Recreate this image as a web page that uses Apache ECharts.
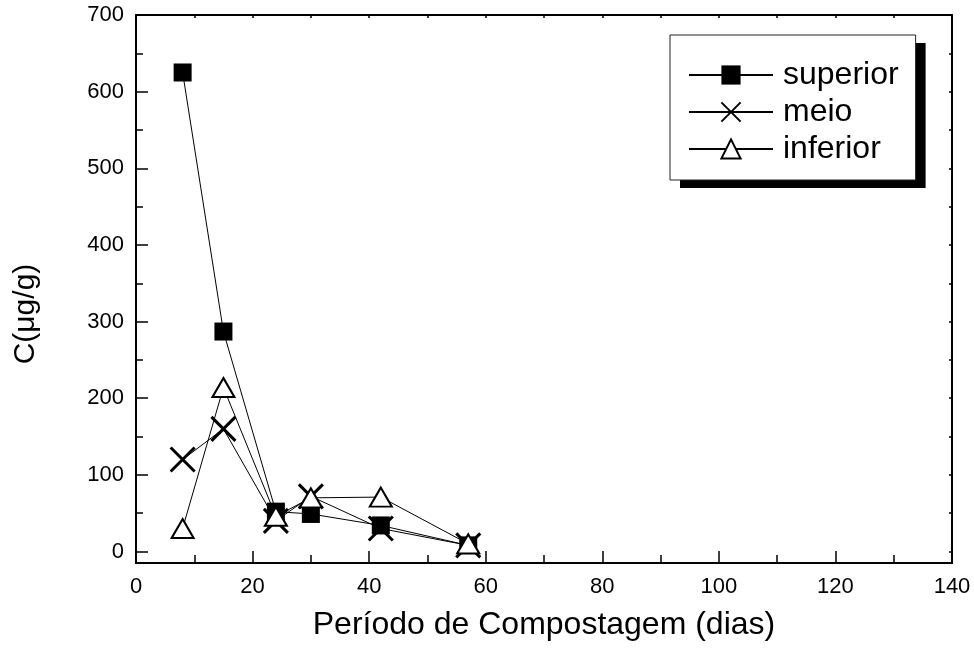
<!DOCTYPE html>
<html>
<head>
<meta charset="utf-8">
<script src="https://cdn.jsdelivr.net/npm/echarts@6/dist/echarts.min.js"></script>
<style>
html,body{margin:0;padding:0;background:#fff;}
#c{width:974px;height:648px;}
</style>
</head>
<body>
<div id="c"></div>
<script>
const days = [8, 15, 24, 30, 42, 57];
const superior = [625, 287, 52, 49, 34, 8];
const meio = [120, 160, 40, 72, 30, 8];
const inferior = [30, 214, 46, 70, 71, 10];
const seriesNames = ['superior', 'meio', 'inferior'];
const yMajor = [0, 100, 200, 300, 400, 500, 600, 700];
const yMinor = [50, 150, 250, 350, 450, 550, 650];
const yAll = [0, 50, 100, 150, 200, 250, 300, 350, 400, 450, 500, 550, 600, 650, 700];

const FONT = "'Liberation Sans', Arial, sans-serif";
const pairs = v => days.map((d, i) => [d, v[i]]);
const X_PATH = 'path://M0,0L10,10M10,0L0,10';

const legendBase = {
  orient: 'vertical',
  left: 670, top: 35,
  padding: [24, 17, 15, 18],
  itemWidth: 84, itemHeight: 24, itemGap: 5,
  textStyle: {fontFamily: FONT, fontSize: 32, color: '#000', padding: [0, 0, 0, 5]},
  data: seriesNames
};

const chart = echarts.init(document.getElementById('c'), null, {renderer: 'canvas'});
chart.setOption({
  animation: false,
  backgroundColor: '#fff',
  textStyle: {fontFamily: FONT},
  grid: {left: 136, right: 22, top: 15, bottom: 85, containLabel: false},
  legend: [
    Object.assign({}, legendBase, {
      backgroundColor: '#fff', borderWidth: 0,
      shadowColor: '#000', shadowBlur: 0, shadowOffsetX: 10, shadowOffsetY: 8
    }),
    Object.assign({}, legendBase, {
      backgroundColor: 'transparent', borderColor: '#222', borderWidth: 1,
      textStyle: Object.assign({}, legendBase.textStyle, {color: 'rgba(0,0,0,0)'}),
      itemStyle: {opacity: 0}, lineStyle: {opacity: 0}
    })
  ],
  xAxis: [{
    type: 'value', position: 'bottom', min: 0, max: 140, interval: 20,
    name: 'Período de Compostagem (dias)', nameLocation: 'middle', nameGap: 46,
    nameTextStyle: {fontFamily: FONT, fontSize: 32, color: '#000'},
    axisLine: {show: true, onZero: false, lineStyle: {color: '#000', width: 2}},
    axisTick: {show: true, inside: true, length: 12, lineStyle: {color: '#000', width: 1.5}},
    minorTick: {show: true, splitNumber: 2, length: 8, lineStyle: {color: '#000', width: 1.5}},
    axisLabel: {fontFamily: FONT, fontSize: 22, color: '#000', margin: 13},
    splitLine: {show: false}
  }, {
    type: 'value', position: 'top', min: 0, max: 140, interval: 10,
    axisLine: {show: true, onZero: false, lineStyle: {color: '#000', width: 2}},
    axisTick: {show: true, inside: true, length: 3, lineStyle: {color: '#000', width: 1.5}},
    axisLabel: {show: false},
    splitLine: {show: false}
  }],
  yAxis: [{
    type: 'value', position: 'left', min: -15, max: 700,
    name: 'C(μg/g)', nameLocation: 'middle', nameGap: 95, nameRotate: 90,
    nameTextStyle: {fontFamily: FONT, fontSize: 30, color: '#000', padding: [0, 50, 0, 0]},
    axisLine: {show: true, onZero: false, lineStyle: {color: '#000', width: 2}},
    axisTick: {show: true, inside: true, length: 12, customValues: yMajor, lineStyle: {color: '#000', width: 1.5}},
    axisLabel: {fontFamily: FONT, fontSize: 22, color: '#000', margin: 12, customValues: yMajor},
    splitLine: {show: false}
  }, {
    type: 'value', position: 'left', min: -15, max: 700,
    axisLine: {show: false},
    axisTick: {show: true, inside: true, length: 7, customValues: yMinor, lineStyle: {color: '#000', width: 1.5}},
    axisLabel: {show: false},
    splitLine: {show: false}
  }, {
    type: 'value', position: 'right', min: -15, max: 700,
    axisLine: {show: true, onZero: false, lineStyle: {color: '#000', width: 2}},
    axisTick: {show: true, inside: true, length: 3, customValues: yAll, lineStyle: {color: '#000', width: 1.5}},
    axisLabel: {show: false},
    splitLine: {show: false}
  }],
  series: [{
    name: seriesNames[0], type: 'line', data: pairs(superior),
    xAxisIndex: 0, yAxisIndex: 0,
    symbol: 'rect', symbolSize: 18,
    itemStyle: {color: '#000'},
    lineStyle: {color: '#000', width: 1}
  }, {
    name: seriesNames[1], type: 'line', data: pairs(meio),
    xAxisIndex: 0, yAxisIndex: 0,
    symbol: X_PATH, symbolSize: 24,
    itemStyle: {color: '#000', borderColor: '#000', borderWidth: 3},
    lineStyle: {color: '#000', width: 1}
  }, {
    name: seriesNames[2], type: 'line', data: pairs(inferior),
    xAxisIndex: 0, yAxisIndex: 0,
    symbol: 'triangle', symbolSize: [22, 19],
    itemStyle: {color: '#fff', borderColor: '#000', borderWidth: 2},
    lineStyle: {color: '#000', width: 1}
  }]
});
</script>
</body>
</html>
